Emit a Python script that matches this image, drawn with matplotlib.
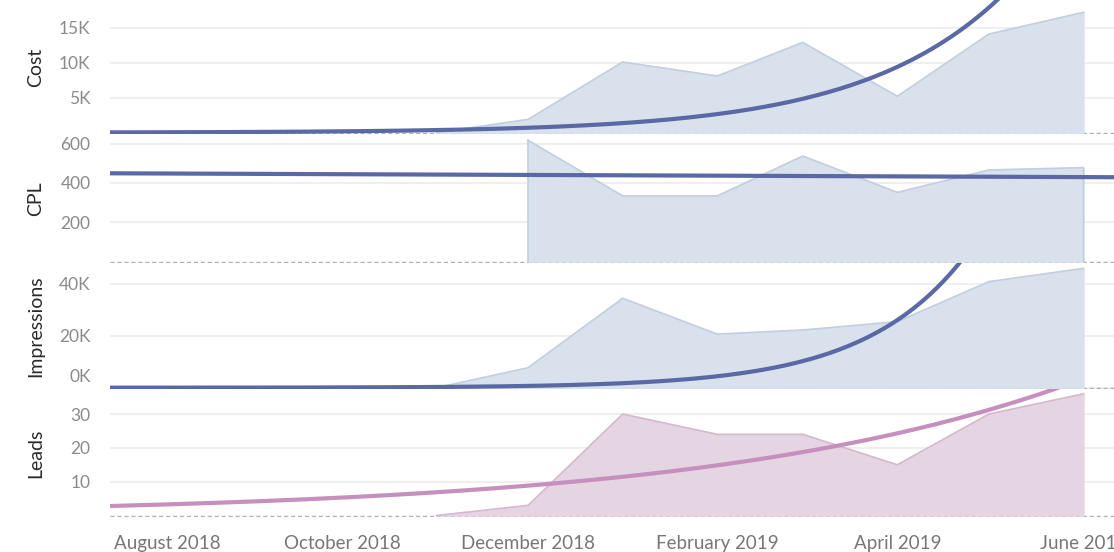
import matplotlib.pyplot as plt
import matplotlib.dates as mdates
import matplotlib.transforms as mtransforms
import numpy as np
import pandas as pd

plt.rcParams['font.family'] = ['Lato', 'DejaVu Sans']

# monthly values (Nov 2018 .. Jun 2019)
months = pd.to_datetime(["2018-11-01", "2018-12-01", "2019-01-01", "2019-02-01",
                         "2019-03-01", "2019-04-01", "2019-05-01", "2019-06-01"])
cost = [0, 1900, 10100, 8100, 12900, 5200, 14100, 17200]
impressions = [0, 7700, 34400, 20600, 22200, 25400, 40800, 45900]
leads = [0, 3, 30, 24, 24, 15, 30, 36]
cpl_months = months[1:]
cpl = [617, 334, 334, 537, 352, 466, 478]

# trend lines
trend_anchor = pd.Timestamp("2019-04-01")
cost_trend_at_anchor, cost_trend_growth = 9400, 1.92          # per month, exponential
impr_trend_at_anchor, impr_trend_growth = 26000, 2.5
leads_trend_at_anchor, leads_trend_growth = 24.3, 1.29
cpl_trend_start, cpl_trend_end = 449, 429                    # linear

x_start = pd.Timestamp("2018-07-17")
x_end = pd.Timestamp("2019-06-11")

BLUE_FILL = "#d8e1ec"
BLUE_EDGE = "#c2cfdf"
BLUE_LINE = "#5a68a5"
PINK_FILL = "#e5d5e2"
PINK_EDGE = "#d6b8cf"
PINK_LINE = "#c78fbe"

W, H = 1114, 552
fig = plt.figure(figsize=(W / 100, H / 100), dpi=100)

# panel pixel bounds (top, bottom)
panels = [(0, 134), (134, 262.5), (262.5, 389), (389, 517)]
left_px = 110


def make_ax(top, bottom):
    return fig.add_axes([left_px / W, 1 - bottom / H, 1 - left_px / W, (bottom - top) / H])


t = pd.date_range(x_start, x_end, freq="D")
dt_months = (t - trend_anchor).days.values / 30.44


def style(ax, ylim, ticks, labels, name):
    ax.set_xlim(x_start, x_end)
    ax.set_ylim(*ylim)
    for s in ax.spines.values():
        s.set_visible(False)
    ax.set_yticks(ticks)
    ax.set_yticklabels(labels)
    ax.tick_params(axis="y", length=0, pad=14, labelsize=12.5, labelcolor="#8a8a8a")
    ax.tick_params(axis="x", length=0)
    ax.grid(axis="y", color="#efefef", lw=1.5)
    ax.grid(axis="x", visible=False)
    ax.set_axisbelow(True)
    ax.axhline(0, color="#b0b0b0", lw=1, ls=(0, (3, 2)), zorder=1)
    ax.set_ylabel(name, fontsize=14, color="#2a2a2a")
    ax.yaxis.set_label_coords(-66 / (W - left_px), 0.5)
    ax.xaxis.set_major_locator(mdates.MonthLocator(bymonth=[2, 4, 6, 8, 10, 12]))
    ax.xaxis.set_major_formatter(mdates.DateFormatter("%B %Y"))


# Cost
ax1 = make_ax(*panels[0])
ax1.fill_between(months, cost, color=BLUE_FILL, zorder=2)
ax1.plot(months, cost, color=BLUE_EDGE, lw=1.2, zorder=2)
ax1.plot(t, cost_trend_at_anchor * cost_trend_growth ** dt_months, color=BLUE_LINE, lw=3, zorder=3)
style(ax1, (-190, 18960), [5000, 10000, 15000], ["5K", "10K", "15K"], "Cost")
ax1.tick_params(axis="x", labelbottom=False)

# CPL
ax2 = make_ax(*panels[1])
ax2.fill_between(cpl_months, cpl, color=BLUE_FILL, zorder=2)
ax2.plot(list(cpl_months) + [cpl_months[-1]], cpl + [0], color=BLUE_EDGE, lw=1.2, zorder=2)
ax2.plot([cpl_months[0], cpl_months[0]], [0, cpl[0]], color=BLUE_EDGE, lw=1.2, zorder=2)
ax2.plot([x_start, x_end], [cpl_trend_start, cpl_trend_end], color=BLUE_LINE, lw=3, zorder=3)
style(ax2, (-5, 649), [200, 400, 600], ["200", "400", "600"], "CPL")
ax2.tick_params(axis="x", labelbottom=False)

# Impressions
ax3 = make_ax(*panels[2])
ax3.fill_between(months, impressions, color=BLUE_FILL, zorder=2)
ax3.plot(months, impressions, color=BLUE_EDGE, lw=1.2, zorder=2)
ax3.plot(t, impr_trend_at_anchor * impr_trend_growth ** dt_months, color=BLUE_LINE, lw=3, zorder=3)
style(ax3, (-500, 48150), [0, 20000, 40000], ["0K", "20K", "40K"], "Impressions")
ax3.tick_params(axis="x", labelbottom=False)
zero_lbl = ax3.get_yticklabels()[0]
zero_lbl.set_transform(zero_lbl.get_transform() + mtransforms.ScaledTranslation(0, 12 / 100, fig.dpi_scale_trans))

# Leads
ax4 = make_ax(*panels[3])
ax4.fill_between(months, leads, color=PINK_FILL, zorder=2)
ax4.plot(months, leads, color=PINK_EDGE, lw=1.2, zorder=2)
ax4.plot(t, leads_trend_at_anchor * leads_trend_growth ** dt_months, color=PINK_LINE, lw=3, zorder=3)
style(ax4, (-0.44, 37.4), [10, 20, 30], ["10", "20", "30"], "Leads")
ax4.tick_params(axis="x", labelsize=13.5, labelcolor="#777777", pad=13)
xlbls = ax4.get_xticklabels()
for lbl in xlbls:
    lbl.set_ha("center")
# first label is nudged inside the pane, as in the original
xlbls[0].set_transform(xlbls[0].get_transform() + mtransforms.ScaledTranslation(12 / 100, 0, fig.dpi_scale_trans))

for ax in (ax1, ax2, ax3):
    ax.set_xticks(ax4.get_xticks())

fig.savefig("out.png", dpi=100)
